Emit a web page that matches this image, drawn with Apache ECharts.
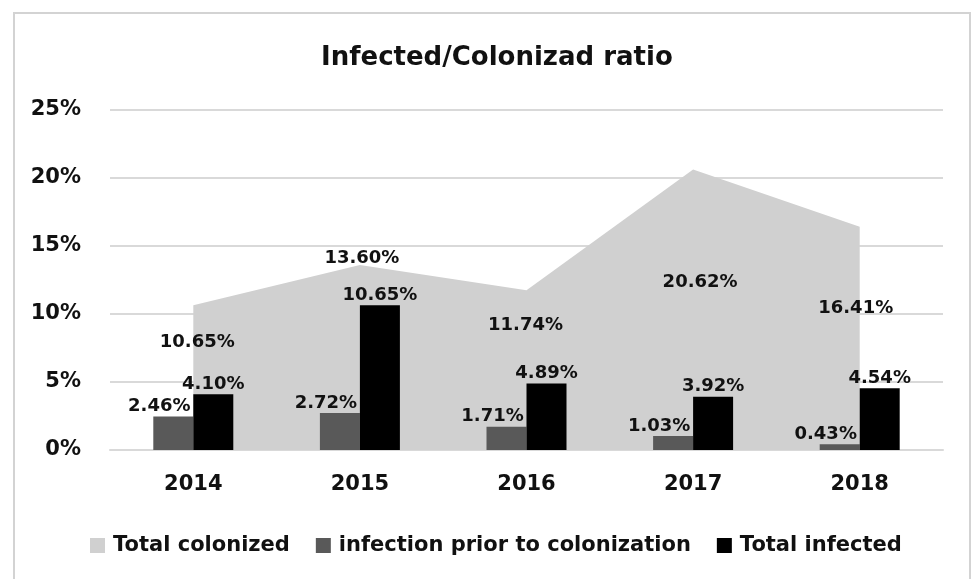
<!DOCTYPE html>
<html>
<head>
<meta charset="utf-8">
<script src="https://cdn.jsdelivr.net/npm/echarts@6/dist/echarts.min.js"></script>
<style>
  html, body { margin: 0; padding: 0; background: #fff; }
  #chart { width: 972px; height: 579px; }
</style>
</head>
<body>
<div id="chart"></div>
<script>
// Yearly colonization / infection ratios (percent)
const years = ['2014', '2015', '2016', '2017', '2018'];
const totalColonized = [10.65, 13.60, 11.74, 20.62, 16.41];
const infectionPrior = [2.46, 2.72, 1.71, 1.03, 0.43];
const totalInfected = [4.10, 10.65, 4.89, 3.92, 4.54];
const yTicks = [0, 5, 10, 15, 20, 25];

const FONT = 'DejaVu Sans';
const TXT = '#111';

// label nudges for the colonized area so they sit inside the shaded region
const areaLabelOffsets = [[4, 51], [2, 7], [-1, 49], [7, 127], [-4, 96]];

const chart = echarts.init(document.getElementById('chart'), null, { renderer: 'canvas' });

const pct = v => v.toFixed(2) + '%';
const labelFont = { fontFamily: FONT, fontSize: 18, fontWeight: 'bold', color: TXT };

chart.setOption({
  backgroundColor: '#fff',
  animation: false,
  textStyle: { fontFamily: FONT },
  graphic: [{
    type: 'rect',
    shape: { x: 14, y: 13, width: 956, height: 600 },
    style: { fill: 'none', stroke: '#d3d3d3', lineWidth: 2 },
    silent: true
  }],
  title: {
    text: 'Infected/Colonizad ratio',
    left: 316,
    top: 40,
    textStyle: { fontFamily: FONT, fontSize: 26, fontWeight: 'bold', color: TXT }
  },
  legend: {
    bottom: 18,
    left: 85,
    itemWidth: 15,
    itemHeight: 15,
    itemGap: 26,
    icon: 'rect',
    textStyle: { fontFamily: FONT, fontSize: 21, fontWeight: 'bold', color: TXT, padding: [0, 0, 0, 3] },
    data: ['Total colonized', 'infection prior to colonization', 'Total infected']
  },
  grid: { left: 110, right: 29, top: 110, bottom: 129 },
  xAxis: {
    type: 'category',
    data: years,
    boundaryGap: true,
    axisLine: { lineStyle: { color: '#d9d9d9', width: 2 } },
    axisTick: { show: false },
    axisLabel: { fontFamily: FONT, fontSize: 21, fontWeight: 'bold', color: TXT, margin: 24 }
  },
  yAxis: {
    type: 'value',
    min: yTicks[0],
    max: yTicks[yTicks.length - 1],
    interval: 5,
    axisLine: { show: false },
    axisTick: { show: false },
    splitLine: { lineStyle: { color: '#d9d9d9', width: 2 } },
    axisLabel: {
      fontFamily: FONT, fontSize: 21, fontWeight: 'bold', color: TXT, margin: 29,
      formatter: v => v + '%'
    }
  },
  series: [
    {
      name: 'Total colonized',
      type: 'line',
      data: totalColonized.map((v, i) => ({
        value: v,
        label: { offset: areaLabelOffsets[i] }
      })),
      symbol: 'circle',
      symbolSize: 0,
      showSymbol: true,
      lineStyle: { width: 0, color: '#d0d0d0' },
      itemStyle: { color: '#d0d0d0' },
      areaStyle: { color: '#d0d0d0', opacity: 1 },
      z: 1,
      label: Object.assign({
        show: true,
        position: 'top',
        distance: 5,
        formatter: p => pct(p.value)
      }, labelFont)
    },
    {
      name: 'infection prior to colonization',
      type: 'bar',
      data: infectionPrior,
      barWidth: 40,
      barGap: '0%',
      itemStyle: { color: '#595959' },
      z: 3,
      label: Object.assign({
        show: true,
        position: 'top',
        distance: 1,
        offset: [-14, 0],
        formatter: p => pct(p.value)
      }, labelFont)
    },
    {
      name: 'Total infected',
      type: 'bar',
      data: totalInfected,
      barWidth: 40,
      barGap: '0%',
      itemStyle: { color: '#000' },
      z: 3,
      label: Object.assign({
        show: true,
        position: 'top',
        distance: 1,
        formatter: p => pct(p.value)
      }, labelFont)
    }
  ]
});
</script>
</body>
</html>
